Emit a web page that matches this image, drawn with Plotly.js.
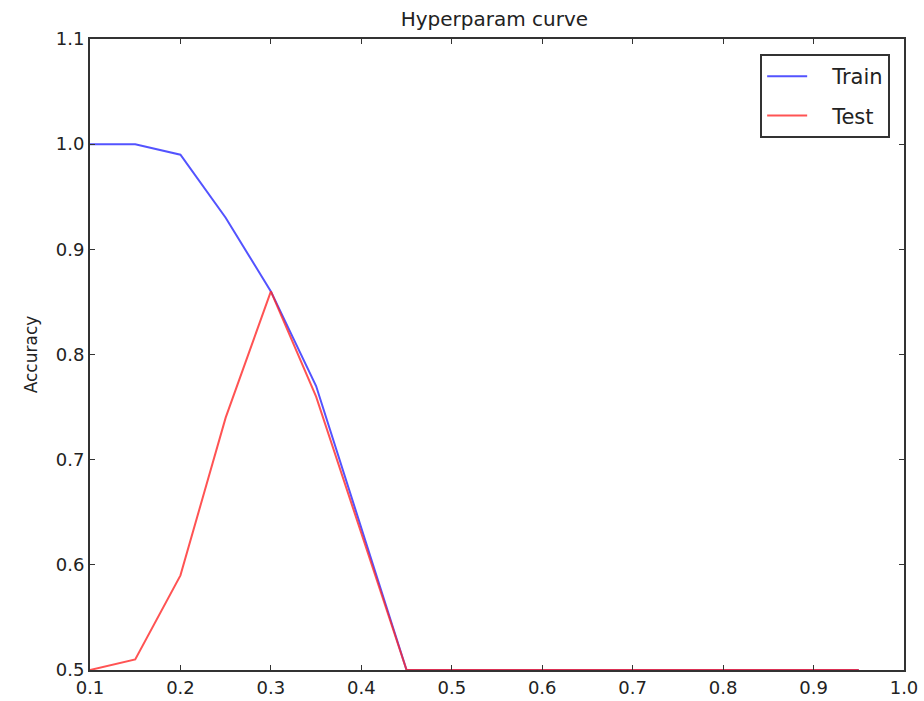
<!DOCTYPE html>
<html>
<head>
<meta charset="utf-8">
<script src="https://cdn.plot.ly/plotly-3.0.1.min.js"></script>
<style>html,body{margin:0;padding:0;background:#fff;}#chart{width:924px;height:701px;}</style>
</head>
<body>
<div id="chart"></div>
<script>
const xValues = [0.1,0.15,0.2,0.25,0.3,0.35,0.4,0.45,0.5,0.55,0.6,0.65,0.7,0.75,0.8,0.85,0.9,0.95];
const trainAcc = [1.0,1.0,0.99,0.93,0.86,0.77,0.635,0.5,0.5,0.5,0.5,0.5,0.5,0.5,0.5,0.5,0.5,0.5];
const testAcc  = [0.5,0.51,0.59,0.74,0.86,0.76,0.63,0.5,0.5,0.5,0.5,0.5,0.5,0.5,0.5,0.5,0.5,0.5];
const xTicks = [0.1,0.2,0.3,0.4,0.5,0.6,0.7,0.8,0.9,1.0];
const yTicks = [0.5,0.6,0.7,0.8,0.9,1.0,1.1];
const seriesNames = ['Train', 'Test'];

const font = {family: 'DejaVu Sans, sans-serif', color: '#222'};
const pad = '\u00a0\u00a0\u00a0';
const traces = [
  {x: xValues, y: trainAcc, name: pad + seriesNames[0], legendgroup: 'g1', mode: 'lines', line: {color: 'rgba(40,40,255,0.8)', width: 2}},
  {x: xValues, y: testAcc, name: pad + seriesNames[1], legendgroup: 'g2', mode: 'lines', line: {color: 'rgba(255,40,40,0.8)', width: 2}}
];
const axisCommon = {
  showgrid: false, zeroline: false, showline: true, mirror: 'ticks',
  linecolor: '#333', linewidth: 2, ticks: 'inside', ticklen: 5, tickcolor: '#333',
  tickfont: {family: font.family, size: 18, color: '#222'}
};
const layout = {
  width: 924, height: 701,
  margin: {l: 90, r: 20, t: 39, b: 31},
  paper_bgcolor: '#fff', plot_bgcolor: '#fff',
  title: {text: 'Hyperparam curve', font: {family: font.family, size: 20, color: '#222'}, x: 0.535, xanchor: 'center', y: 0.973, yanchor: 'middle'},
  xaxis: Object.assign({}, axisCommon, {range: [0.1, 1.0], tickvals: xTicks, ticktext: xTicks.map(v => v.toFixed(1))}),
  yaxis: Object.assign({}, axisCommon, {range: [0.5, 1.1], tickvals: yTicks, ticktext: yTicks.map(v => v.toFixed(1)),
    title: {text: 'Accuracy', font: {family: font.family, size: 17, color: '#222'}, standoff: 14}}),
  showlegend: true,
  legend: {x: 0.983, y: 0.976, xanchor: 'right', yanchor: 'top', bgcolor: '#fff', bordercolor: '#333', borderwidth: 2,
    font: {family: font.family, size: 21, color: '#222'}, itemwidth: 40, tracegroupgap: 9}
};
Plotly.newPlot('chart', traces, layout, {displayModeBar: false, staticPlot: true});
</script>
</body>
</html>
